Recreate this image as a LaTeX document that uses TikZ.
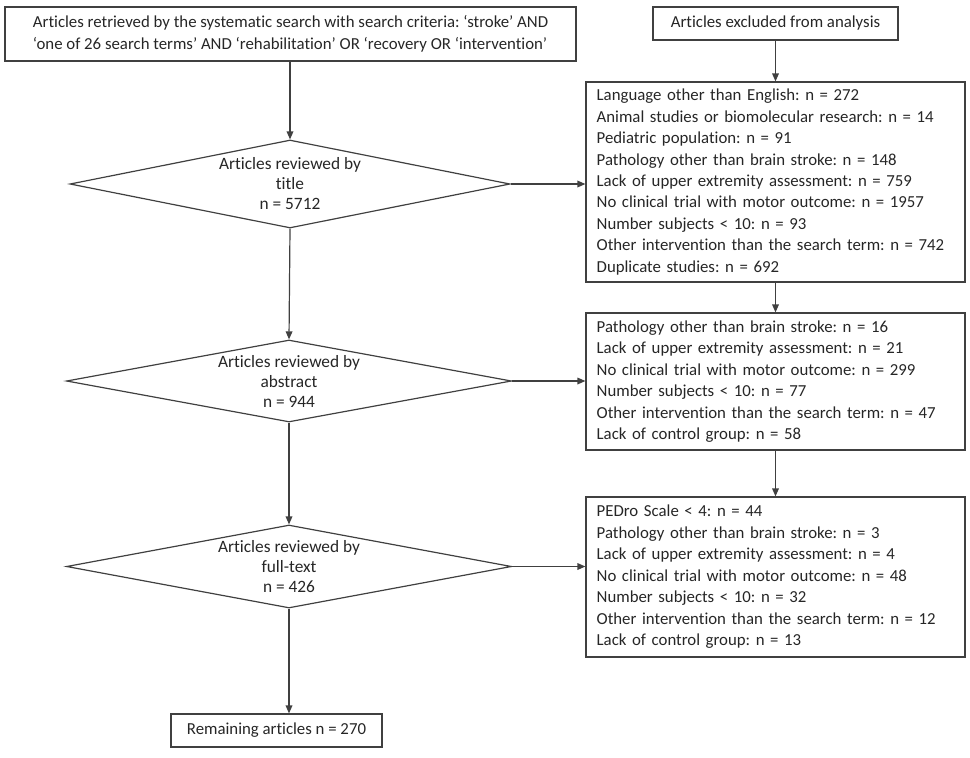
\documentclass[tikz,border=0pt]{standalone}
\usepackage{fontspec}
\setmainfont{Carlito}[Ligatures={TeX,NoCommon}]
\usetikzlibrary{arrows.meta,shapes.geometric}
\definecolor{lc}{gray}{0.25}
\definecolor{tc}{gray}{0.15}
\frenchspacing
\begin{document}
\begin{tikzpicture}[x=0.75pt,y=-0.75pt,
  txt/.style={text=tc,font=\fontsize{12.6}{16.1}\selectfont},
  box/.style={txt,draw=lc,line width=0.9pt,rectangle,inner ysep=0pt},
  lbox/.style={box,inner xsep=8pt,text width=268.25pt,align=left,minimum height=#1},
  dia/.style={draw=lc,line width=0.9pt,diamond,inner sep=0pt,minimum width=#1},
  dtext/.style={txt,align=center,font=\fontsize{13}{15}\selectfont},
  arr/.style={draw=lc,line width=0.9pt,-{Triangle[length=6pt,width=5pt]}}]
\useasboundingbox (0,0) rectangle (970,757);

\node[box,align=left,minimum width=428.25pt,minimum height=40.5pt] (top) at (290.5,34)
  {Articles retrieved by the systematic search with search criteria: ‘stroke’ AND\\
   ‘one of 26 search terms’ AND ‘rehabilitation’ OR ‘recovery OR ‘intervention’};

\node[box,minimum width=183.75pt,minimum height=24.75pt] (excl) at (775.5,23.5)
  {Articles excluded from analysis};

\node[lbox=150pt] (b1) at (775.5,182)
  {Language other than English: n = 272\\
   Animal studies or biomolecular research: n = 14\\
   Pediatric population: n = 91\\
   Pathology other than brain stroke: n = 148\\
   Lack of upper extremity assessment: n = 759\\
   No clinical trial with motor outcome: n = 1957\\
   Number subjects < 10: n = 93\\
   Other intervention than the search term: n = 742\\
   Duplicate studies: n = 692};

\node[lbox=102.75pt] (b2) at (775.5,381.5)
  {Pathology other than brain stroke: n = 16\\
   Lack of upper extremity assessment: n = 21\\
   No clinical trial with motor outcome: n = 299\\
   Number subjects < 10: n = 77\\
   Other intervention than the search term: n = 47\\
   Lack of control group: n = 58};

\node[lbox=120pt] (b3) at (775.5,577)
  {PEDro Scale < 4: n = 44\\
   Pathology other than brain stroke: n = 3\\
   Lack of upper extremity assessment: n = 4\\
   No clinical trial with motor outcome: n = 48\\
   Number subjects < 10: n = 32\\
   Other intervention than the search term: n = 12\\
   Lack of control group: n = 13};

\node[dia=330pt,minimum height=66pt] (d1) at (290,184) {};
\node[dtext] (d1t) at (d1.center) {Articles reviewed by\\title\\n = 5712};
\node[dia=333.75pt,minimum height=61.5pt] (d2) at (289,381) {};
\node[dtext] (d2t) at (d2.center) {Articles reviewed by\\abstract\\n = 944};
\node[dia=333.75pt,minimum height=62.25pt] (d3) at (289,566.5) {};
\node[dtext] (d3t) at (d3.center) {Articles reviewed by\\full-text\\n = 426};

\node[box,minimum width=158.25pt,minimum height=24.75pt] (rem) at (276.5,730.5)
  {Remaining articles n = 270};

\draw[arr] (top.south -| d1.north) -- (d1.north);
\draw[arr] (d1.south) -- (d2.north);
\draw[arr] (d2.south) -- (d3.north);
\draw[arr] (d3.south) -- (d3.south |- rem.north);
\draw[arr] (d1.east) -- (d1.east -| b1.west);
\draw[arr] (d2.east) -- (d2.east -| b2.west);
\draw[arr] (d3.east) -- (d3.east -| b3.west);
\draw[arr] (excl.south) -- (b1.north);
\draw[arr] (b1.south) -- (b2.north);
\draw[arr] (b2.south) -- (b3.north);
\end{tikzpicture}
\end{document}
